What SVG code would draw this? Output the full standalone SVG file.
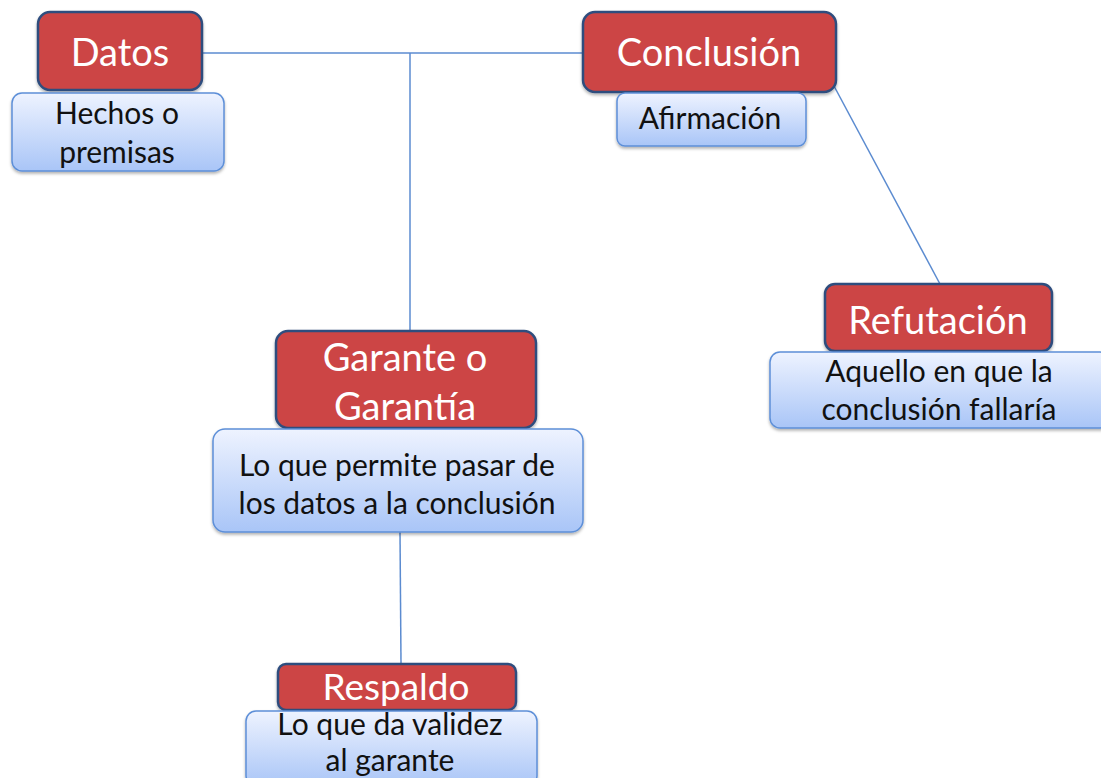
<svg xmlns="http://www.w3.org/2000/svg" width="1101" height="778" viewBox="0 0 1101 778">
<defs>
<linearGradient id="bg" x1="0" y1="0" x2="0" y2="1">
<stop offset="0" stop-color="#eef3ff"/>
<stop offset="1" stop-color="#a9c5f7"/>
</linearGradient>
<filter id="sh" x="-10%" y="-10%" width="120%" height="130%">
<feDropShadow dx="0" dy="2" stdDeviation="1.5" flood-color="#000" flood-opacity="0.3"/>
</filter>
<style>
.red{fill:#cc4444;stroke:#2f4d7e;stroke-width:2.5}
.blue{fill:url(#bg);stroke:#5d8fd8;stroke-width:1.5}
.t1{font-family:Lato,"Open Sans",sans-serif;font-size:38px;fill:#fff;text-anchor:middle}
.t2{font-family:Lato,"Open Sans",sans-serif;font-size:30px;fill:#111;text-anchor:middle}
.ln{stroke:#5b8bd0;stroke-width:1.5;fill:none}
</style>
</defs>
<g id="connectors">
<line class="ln" x1="202" y1="53" x2="583" y2="53"/>
<line class="ln" x1="410" y1="53" x2="410" y2="331"/>
<line class="ln" x1="834" y1="86" x2="940" y2="284"/>
<line class="ln" x1="400" y1="532" x2="401" y2="664"/>
</g>
<g id="datos">
<rect class="red" x="38" y="12" width="164" height="78" rx="12" filter="url(#sh)"/>
<rect class="blue" x="12" y="93" width="212" height="78" rx="10" filter="url(#sh)"/>
<text class="t1" x="120" y="66">Datos</text>
<text class="t2" x="117" y="124">Hechos o</text>
<text class="t2" x="117" y="163">premisas</text>
</g>
<g id="conclusion">
<rect class="red" x="583" y="12" width="253" height="80" rx="12" filter="url(#sh)"/>
<rect class="blue" x="617" y="93" width="189" height="53" rx="8" filter="url(#sh)"/>
<text class="t1" x="709" y="66">Conclusión</text>
<text class="t2" x="710" y="129">Afirmación</text>
</g>
<g id="refutacion">
<rect class="red" x="825" y="284" width="227" height="67" rx="10" filter="url(#sh)"/>
<rect class="blue" x="770" y="352" width="340" height="76" rx="10" filter="url(#sh)"/>
<text class="t1" x="938" y="334">Refutación</text>
<text class="t2" x="939" y="382">Aquello en que la</text>
<text class="t2" x="939" y="420">conclusión fallaría</text>
</g>
<g id="garante">
<rect class="red" x="276" y="331" width="260" height="97" rx="12" filter="url(#sh)"/>
<rect class="blue" x="213" y="429" width="370" height="103" rx="12" filter="url(#sh)"/>
<text class="t1" x="405" y="371">Garante o</text>
<text class="t1" x="405" y="420">Garantía</text>
<text class="t2" x="397" y="476">Lo que permite pasar de</text>
<text class="t2" x="397" y="514">los datos a la conclusión</text>
</g>
<g id="respaldo">
<rect class="red" x="278" y="664" width="238" height="46" rx="8" filter="url(#sh)"/>
<rect class="blue" x="246" y="711" width="291" height="75" rx="10" filter="url(#sh)"/>
<text class="t1" x="396" y="700" style="font-size:37px">Respaldo</text>
<text class="t2" x="390" y="735">Lo que da validez</text>
<text class="t2" x="390" y="771">al garante</text>
</g>
</svg>
